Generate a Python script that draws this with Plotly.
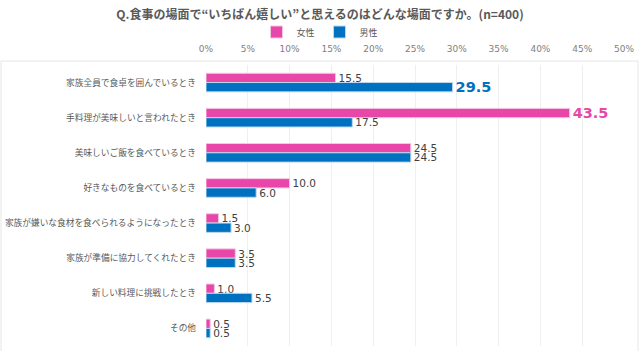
import plotly.graph_objects as go

categories = [
    "家族全員で食卓を囲んでいるとき",
    "手料理が美味しいと言われたとき",
    "美味しいご飯を食べているとき",
    "好きなものを食べているとき",
    "家族が嫌いな食材を食べられるようになったとき",
    "家族が準備に協力してくれたとき",
    "新しい料理に挑戦したとき",
    "その他",
]
female = [15.5, 43.5, 24.5, 10.0, 1.5, 3.5, 1.0, 0.5]
male = [29.5, 17.5, 24.5, 6.0, 3.0, 3.5, 5.5, 0.5]
tick_vals = [0, 5, 10, 15, 20, 25, 30, 35, 40, 45, 50]
tick_text = [f"{v}%" for v in tick_vals]

PINK = "#E946A9"
BLUE = "#0070C0"
GRAY = "#595959"

W, H = 640, 351
L, R, T, B = 206, 16, 65, 5


def labels(vals, color):
    mx = max(vals)
    text, sizes, colors = [], [], []
    for v in vals:
        if v == mx:
            text.append(f"<b>{v:.1f}</b>")
            sizes.append(14.5)
            colors.append(color)
        else:
            text.append(f"{v:.1f}")
            sizes.append(10.5)
            colors.append("#404040")
    return text, sizes, colors


ft, fs, fc = labels(female, PINK)
mt, ms, mc = labels(male, BLUE)

fig = go.Figure()
fig.add_trace(go.Bar(
    y=categories, x=female, name="女性", orientation="h",
    marker=dict(color=PINK, line=dict(color="#F3C6E2", width=1)),
    text=ft, textposition="outside", cliponaxis=False, constraintext="none",
    textfont=dict(size=fs, color=fc, family="DejaVu Sans"),
))
fig.add_trace(go.Bar(
    y=categories, x=male, name="男性", orientation="h",
    marker=dict(color=BLUE, line=dict(color="#BDD7EE", width=1)),
    text=mt, textposition="outside", cliponaxis=False, constraintext="none",
    textfont=dict(size=ms, color=mc, family="DejaVu Sans"),
))

pw = W - L - R
ph = H - T - B
fig.add_shape(
    type="rect", xref="paper", yref="paper",
    x0=(1 - L) / pw, x1=(W - 2 - L) / pw,
    y0=(H - T - (H - 2)) / ph, y1=(H - T - 1) / ph,
    line=dict(color="#E6E6E6", width=1), fillcolor="rgba(0,0,0,0)",
    layer="below",
)

fig.update_layout(
    width=W, height=H,
    margin=dict(l=L, r=R, t=T, b=B, autoexpand=False),
    paper_bgcolor="white", plot_bgcolor="white",
    font=dict(family="Noto Sans CJK JP", color=GRAY, size=9),
    barmode="group", bargap=0.47, bargroupgap=0,
    title=dict(
        text="<b>Q.食事の場面で“いちばん嬉しい”と思えるのはどんな場面ですか。(n=400)</b>",
        x=0.5, xref="container", xanchor="center",
        y=1 - 15 / H, yref="container", yanchor="middle",
        font=dict(size=12, color=GRAY, family="Noto Sans CJK JP"),
    ),
    legend=dict(
        orientation="h", x=0.5, xref="container", xanchor="center",
        y=1 - 32 / H, yref="container", yanchor="middle",
        font=dict(size=9, color=GRAY), itemwidth=30,
        bgcolor="rgba(0,0,0,0)", tracegroupgap=0,
        traceorder="normal",
    ),
    xaxis=dict(
        side="top", range=[0, 50], tickvals=tick_vals, ticktext=tick_text,
        showgrid=True, gridcolor="#EFEFEF", gridwidth=1,
        zeroline=False, showline=False, ticks="",
        ticklabelstandoff=10,
        tickfont=dict(size=9, color="#808080", family="DejaVu Sans"),
    ),
    yaxis=dict(
        autorange="reversed", showgrid=False, zeroline=False,
        showline=False, ticks="", ticklabelstandoff=9,
        tickfont=dict(size=8.7, color=GRAY, family="Noto Sans CJK JP"),
    ),
    showlegend=True,
)

fig.write_html("out.html")
